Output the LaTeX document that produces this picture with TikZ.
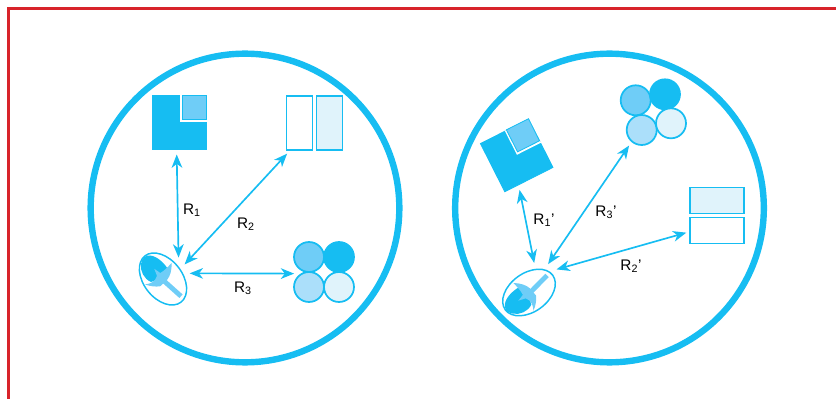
\documentclass[tikz,border=0pt]{standalone}
\usepackage{fontspec}
\setmainfont{Liberation Sans}
\usepackage{xcolor}
\usetikzlibrary{arrows.meta,shapes.geometric}
\definecolor{ringcyan}{RGB}{22,189,242}
\definecolor{fillmid}{RGB}{111,205,247}
\definecolor{filllight}{RGB}{171,223,250}
\definecolor{fillpale}{RGB}{224,243,251}
\definecolor{framered}{RGB}{216,35,42}
\tikzset{
  ring/.style={circle, draw=ringcyan, line width=4.8pt, minimum size=231.5pt, inner sep=0pt},
  bigsquare/.style={rectangle, draw=ringcyan, fill=ringcyan, line width=.6pt,
    minimum size=40.5pt, inner sep=0pt, outer sep=3.75pt},
  notchsquare/.style={rectangle, fill=white, minimum size=20.2pt, inner sep=0pt},
  smallsquare/.style={rectangle, draw=ringcyan, fill=fillmid, line width=.6pt,
    minimum size=18.5pt, inner sep=0pt},
  tallbox/.style={rectangle, draw=ringcyan, line width=1.4pt,
    minimum width=19.5pt, minimum height=40pt, inner sep=0pt, outer sep=3pt},
  widebox/.style={rectangle, draw=ringcyan, line width=1.4pt,
    minimum width=40pt, minimum height=19.5pt, inner sep=0pt, outer sep=3pt},
  ball/.style={circle, draw=ringcyan, line width=1.3pt,
    minimum size=22.5pt, inner sep=0pt, outer sep=3.75pt},
  eye/.style={ellipse, draw=ringcyan, line width=1.1pt,
    minimum width=44pt, minimum height=29pt, inner sep=0pt, outer sep=5pt},
  link/.style={{Stealth[length=10pt,width=8pt,inset=3pt]}-{Stealth[length=10pt,width=8pt,inset=3pt]},
    draw=ringcyan, line width=1.25pt},
  tag/.style={font=\fontsize{11.5pt}{13pt}\selectfont, inner sep=0pt},
  spoon/.pic={
    \fill[ringcyan] (-22,-15) .. controls (-21,-21) and (-18,-24) .. (-13,-23.5)
      .. controls (-6,-23) and (1,-16) .. (5,-10) -- (-2,-1) -- (-12,3)
      .. controls (-19,0) and (-23,-8) .. (-22,-15) -- cycle;
    \fill[fillmid] (-8.7,-10.2) -- (-2.7,-6)
      .. controls (1,-8) and (5,-12) .. (8.5,-16)
      .. controls (9,-8) and (7,-3) .. (4,1) -- (-2.7,7.2)
      .. controls (-7,8) and (-12,7.5) .. (-18,5.5)
      .. controls (-12,4.5) and (-8,3) .. (-6,-3) -- cycle;
    \draw[fillmid, line width=3.6pt] (1,2) -- (18,17.2);
  }
}

\begin{document}
\begin{tikzpicture}[x=.75pt,y=-.75pt]
\useasboundingbox (0,0) rectangle (836,399);
\draw[framered, line width=2.3pt] (8.8,399) |- (836,8.2);

\node[ring] (ringL) at (245,208) {};
\node[ring] (ringR) at (609.5,208) {};

% left circle
\node[bigsquare] (squareL) at (179.5,122.5) {};
\node[notchsquare] (notchL) at (193.5,108.5) {};
\node[smallsquare] (smallL) at (194.3,107.3) {};
\node[tallbox] (tallA) at (299.5,123) {};
\node[tallbox, fill=fillpale] (tallB) at (329.5,123) {};
\node[ball, fill=fillmid] (ballA) at (309,257) {};
\node[ball, fill=ringcyan] (ballB) at (339,257) {};
\node[ball, fill=filllight] (ballC) at (309,287) {};
\node[ball, fill=fillpale] (ballD) at (339,287) {};
\node[eye, rotate=-52] (eyeL) at (163,279) {};
\pic at (eyeL.center) {spoon};

\draw[link] (eyeL.106) -- (squareL.265.6);
\draw[link] (eyeL.86) -- (tallA.248);
\draw[link] (eyeL.64) -- (ballC.138.5);

\node[tag] (r1) at (192,210) {R\textsubscript{1}};
\node[tag] (r2) at (246,224) {R\textsubscript{2}};
\node[tag] (r3) at (243,288) {R\textsubscript{3}};

% right circle
\node[bigsquare, rotate=26.8] (squareR) at (516.7,155.5) {};
\node[notchsquare, rotate=26.8] (notchR) at (522.9,136.7) {};
\node[smallsquare, rotate=26.8] (smallR) at (523,135.3) {};
\node[widebox, fill=fillpale] (wideA) at (717,200.5) {};
\node[widebox] (wideB) at (717,230.5) {};
\node[ball, fill=fillmid] (ballE) at (635.7,100.3) {};
\node[ball, fill=ringcyan] (ballF) at (665,94.3) {};
\node[ball, fill=filllight] (ballG) at (641.7,130) {};
\node[ball, fill=fillpale] (ballH) at (671,123.3) {};
\node[eye, rotate=36] (eyeR) at (529,292.5) {};
\pic[rotate=87] at (eyeR.center) {spoon};

\draw[link] (eyeR.44) -- (squareR.248.7);
\draw[link] (eyeR.20.7) -- (ballG.231.6);
\draw[link] (eyeR.4.4) -- (wideB.184.6);

\node[tag] (r1p) at (544,220) {R\textsubscript{1}'};
\node[tag] (r3p) at (606,212) {R\textsubscript{3}'};
\node[tag] (r2p) at (631,266) {R\textsubscript{2}'};
\end{tikzpicture}
\end{document}
